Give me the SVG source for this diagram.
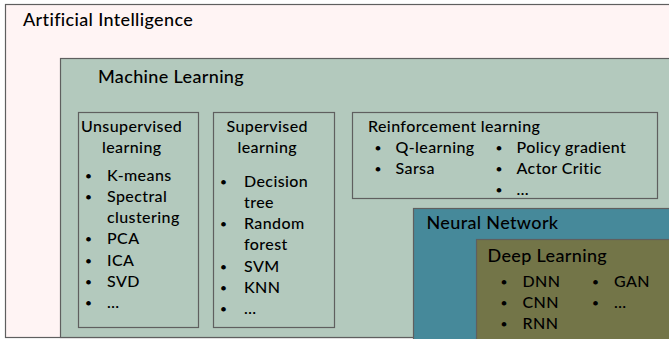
<svg xmlns="http://www.w3.org/2000/svg" width="669" height="339" viewBox="0 0 669 339">
<style>
rect{stroke:#5f5f5f;stroke-width:1.2}
text{font-family:Lato,"Open Sans",sans-serif;fill:#000;font-weight:500}
.t{font-size:18px;letter-spacing:0.35px}
.b{font-size:16px;letter-spacing:0.4px}
.d{font-size:12px;font-family:Lato,"Open Sans",sans-serif}
</style>
<rect width="669" height="339" fill="#ffffff" style="stroke:none"/>
<g id="ai">
<rect x="5.5" y="4.5" width="680" height="333" fill="#fff4f4"/>
<text class="t" x="23" y="26">Artificial Intelligence</text>
</g>
<g id="ml">
<rect x="60.5" y="58.5" width="625" height="279" fill="#b3c9bd"/>
<text class="t" x="98" y="83">Machine Learning</text>
</g>
<g id="unsupervised">
<rect x="78.5" y="112.5" width="120" height="215" fill="none"/>
<text class="b" x="81" y="132">Unsupervised</text>
<text class="b" x="102" y="153">learning</text>
<text class="d" x="85" y="179.5">•</text><text class="b" x="107" y="180.5">K-means</text>
<text class="d" x="85" y="200.8">•</text><text class="b" x="107" y="201.8">Spectral</text>
<text class="b" x="107" y="223.1">clustering</text>
<text class="d" x="85" y="243.4">•</text><text class="b" x="107" y="244.4">PCA</text>
<text class="d" x="85" y="264.7">•</text><text class="b" x="107" y="265.7">ICA</text>
<text class="d" x="85" y="286">•</text><text class="b" x="107" y="287">SVD</text>
<text class="d" x="85" y="307.3">•</text><text class="b" x="107" y="308.3">…</text>
</g>
<g id="supervised">
<rect x="213.5" y="112.5" width="121" height="215" fill="none"/>
<text class="b" x="226.5" y="132">Supervised</text>
<text class="b" x="237.5" y="153">learning</text>
<text class="d" x="220" y="185.5">•</text><text class="b" x="244" y="186.5">Decision</text>
<text class="b" x="244" y="207.8">tree</text>
<text class="d" x="220" y="228.1">•</text><text class="b" x="244" y="229.1">Random</text>
<text class="b" x="244" y="250.4">forest</text>
<text class="d" x="220" y="270.7">•</text><text class="b" x="244" y="271.7">SVM</text>
<text class="d" x="220" y="292">•</text><text class="b" x="244" y="293">KNN</text>
<text class="d" x="220" y="313.3">•</text><text class="b" x="244" y="314.3">…</text>
</g>
<g id="reinforcement">
<rect x="352.5" y="112.5" width="305" height="86" fill="none"/>
<text class="b" x="368" y="131.7">Reinforcement learning</text>
<text class="d" x="374.5" y="152.3">•</text><text class="b" x="395.5" y="153.3">Q-learning</text>
<text class="d" x="374.5" y="173">•</text><text class="b" x="395.5" y="174">Sarsa</text>
<text class="d" x="495.5" y="152.3">•</text><text class="b" x="516.5" y="153.3">Policy gradient</text>
<text class="d" x="495.5" y="173">•</text><text class="b" x="516.5" y="174">Actor Critic</text>
<text class="d" x="495.5" y="193.5">•</text><text class="b" x="516.5" y="194.5">…</text>
</g>
<g id="nn">
<rect x="413.5" y="208.5" width="270" height="140" fill="#46899a"/>
<text class="t" x="426.5" y="229.3">Neural Network</text>
</g>
<g id="dl">
<rect x="476.5" y="239.5" width="210" height="110" fill="#737548"/>
<text class="t" x="487.5" y="261.7">Deep Learning</text>
<text class="d" x="500.5" y="285.7">•</text><text class="b" x="522.5" y="286.7">DNN</text>
<text class="d" x="500.5" y="307.3">•</text><text class="b" x="522.5" y="308.3">CNN</text>
<text class="d" x="500.5" y="328.3">•</text><text class="b" x="522.5" y="329.3">RNN</text>
<text class="d" x="592" y="285.7">•</text><text class="b" x="614" y="286.7">GAN</text>
<text class="d" x="592" y="307.3">•</text><text class="b" x="614" y="308.3">…</text>
</g>
</svg>
